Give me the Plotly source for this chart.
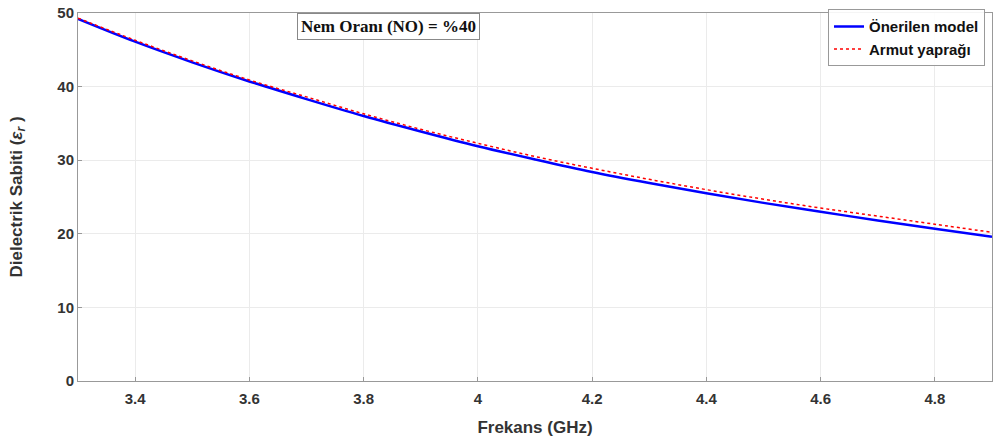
import plotly.graph_objects as go

freq = [3.3, 3.4, 3.5, 3.6, 3.7, 3.8, 3.9, 4.0, 4.1, 4.2, 4.3, 4.4, 4.5, 4.6, 4.7, 4.8, 4.9]
onerilen = [49.2, 46.1, 43.3, 40.7, 38.3, 36.0, 33.9, 31.9, 30.1, 28.4, 26.9, 25.5, 24.2, 23.0, 21.8, 20.7, 19.6]
armut = [49.3, 46.3, 43.5, 40.9, 38.6, 36.3, 34.2, 32.3, 30.5, 28.9, 27.4, 26.0, 24.7, 23.5, 22.4, 21.3, 20.2]
x_ticks = [3.4, 3.6, 3.8, 4.0, 4.2, 4.4, 4.6, 4.8]
x_ticklabels = ["3.4", "3.6", "3.8", "4", "4.2", "4.4", "4.6", "4.8"]
y_ticks = [0, 10, 20, 30, 40, 50]

fig = go.Figure()
fig.add_trace(go.Scatter(x=freq, y=onerilen, mode="lines", name="Önerilen model",
                         line=dict(color="#0000ff", width=2.5, shape="spline")))
fig.add_trace(go.Scatter(x=freq, y=armut, mode="lines", name="Armut yaprağı",
                         line=dict(color="#ff0000", width=1.5, dash="dot", shape="spline")))

SANS = "Liberation Sans, Arial"
fig.update_layout(
    width=993, height=446,
    margin=dict(l=78, r=1, t=13, b=65),
    plot_bgcolor="white", paper_bgcolor="white",
    font=dict(family=SANS, color="#262626"),
    legend=dict(x=(828 - 78) / 914, y=1.01, xanchor="left", yanchor="top",
                bgcolor="rgba(255,255,255,0.9)", bordercolor="#999999", borderwidth=1,
                font=dict(family=SANS, size=15, color="#111111", weight="bold"),
                tracegroupgap=0, itemwidth=30),
    xaxis=dict(range=[3.3, 4.9], tickvals=x_ticks, ticktext=x_ticklabels,
               showgrid=True, gridcolor="#ebebeb", zeroline=False, automargin=False,
               showline=True, linecolor="#999999", mirror=True, linewidth=1,
               ticks="inside", ticklen=4, tickcolor="#999999", ticklabelstandoff=4,
               tickfont=dict(family=SANS, size=15, color="#333333", weight="bold"),
               title=dict(text="Frekans (GHz)", standoff=15,
                          font=dict(family=SANS, size=17, color="#333333", weight="bold"))),
    yaxis=dict(range=[0, 50], tickvals=y_ticks,
               showgrid=True, gridcolor="#ebebeb", zeroline=False, automargin=False,
               showline=True, linecolor="#999999", mirror=True, linewidth=1,
               ticks="inside", ticklen=4, tickcolor="#999999",
               tickfont=dict(family=SANS, size=15, color="#333333", weight="bold"),
               title=dict(text="Dielectrik Sabiti (<i>ε</i><sub><i>r</i></sub> )", standoff=30,
                          font=dict(family=SANS, size=17, color="#333333", weight="bold"))),
    showlegend=True,
)

fig.add_annotation(xref="paper", yref="paper", x=(388 - 78) / 914, y=1.0, yanchor="top",
                   text="<b>Nem Oranı (NO) = %40</b>", showarrow=False,
                   font=dict(family="Liberation Serif, Times New Roman", size=17, color="#111111"),
                   bordercolor="#888888", borderwidth=1, borderpad=3, bgcolor="white")

fig.write_html("out.html", config={"displayModeBar": False},
               post_script="document.body.style.margin='0';document.body.style.overflow='hidden';")
